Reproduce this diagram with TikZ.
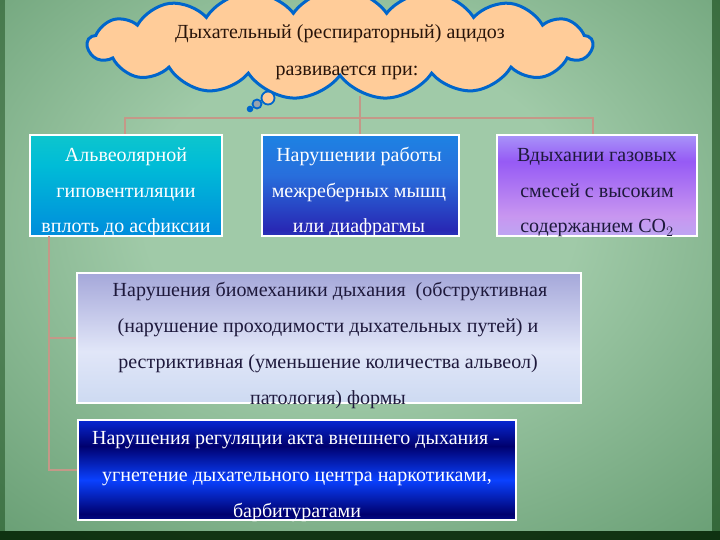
\documentclass[tikz,border=0pt]{standalone}
\usepackage{fontspec}
\setmainfont{Liberation Serif}
\usetikzlibrary{shapes.symbols}
\definecolor{bgin}{RGB}{160,202,168}
\definecolor{bgmid}{RGB}{100,155,112}
\definecolor{bgout}{RGB}{38,100,58}
\definecolor{peach}{RGB}{255,204,153}
\definecolor{cloudblue}{RGB}{0,102,204}
\definecolor{connc}{RGB}{196,152,136}
\definecolor{darktext}{RGB}{30,25,60}
\definecolor{browntext}{RGB}{40,20,10}
\pgfdeclareradialshading{bgshade}{\pgfpoint{0bp}{6bp}}{color(0bp)=(bgin); color(15bp)=(bgin); color(40bp)=(bgmid); color(70bp)=(bgout); color(100bp)=(bgout)}
\pgfdeclareverticalshading{shA}{100bp}{color(0bp)=(rgb,255:red,0;green,100;blue,205); color(25bp)=(rgb,255:red,0;green,140;blue,220); color(60bp)=(rgb,255:red,0;green,188;blue,215); color(100bp)=(rgb,255:red,35;green,212;blue,188)}
\pgfdeclareverticalshading{shB}{100bp}{color(0bp)=(rgb,255:red,50;green,150;blue,228); color(28bp)=(rgb,255:red,40;green,40;blue,180); color(55bp)=(rgb,255:red,40;green,110;blue,220); color(100bp)=(rgb,255:red,15;green,155;blue,235)}
\pgfdeclareverticalshading{shC}{100bp}{color(0bp)=(rgb,255:red,165;green,205;blue,248); color(35bp)=(rgb,255:red,200;green,150;blue,240); color(62bp)=(rgb,255:red,150;green,90;blue,245); color(80bp)=(rgb,255:red,175;green,170;blue,250); color(100bp)=(rgb,255:red,185;green,198;blue,250)}
\pgfdeclareverticalshading{shD}{100bp}{color(0bp)=(rgb,255:red,175;green,190;blue,175); color(10bp)=(rgb,255:red,150;green,170;blue,155); color(20bp)=(rgb,255:red,200;green,215;blue,240); color(45bp)=(rgb,255:red,225;green,230;blue,248); color(100bp)=(rgb,255:red,115;green,115;blue,192)}
\pgfdeclareverticalshading{shE}{100bp}{color(0bp)=(rgb,255:red,0;green,0;blue,100); color(12bp)=(rgb,255:red,10;green,55;blue,245); color(28bp)=(rgb,255:red,0;green,0;blue,110); color(45bp)=(rgb,255:red,10;green,65;blue,255); color(62bp)=(rgb,255:red,0;green,0;blue,110); color(80bp)=(rgb,255:red,10;green,55;blue,250); color(100bp)=(rgb,255:red,0;green,0;blue,100)}
\tikzset{
  conn/.style={draw=connc, line width=2pt},
  boxbase/.style={draw=white, line width=2pt, inner sep=0pt},
  txt/.style={anchor=base, inner sep=0pt, font=\fontsize{20}{22}\selectfont},
}
\begin{document}
\begin{tikzpicture}[x=1pt,y=-1pt]
\useasboundingbox (0,0) rectangle (720,540);
\node[name=bg, inner sep=0pt, minimum width=720pt, minimum height=540pt, shading=bgshade] at (360,270) {};
\fill[black!80!green!60!black, opacity=0.85] (0,531) rectangle (720,540);
\fill[black!60!green!50!black, opacity=0.5] (712,0) rectangle (720,531);
\fill[black!60!green!50!black, opacity=0.4] (0,0) rectangle (5,531);

% connector coordinates
\coordinate (cb) at (360,96);
\coordinate (hl) at (125,118);
\coordinate (hr) at (593,118);
\coordinate (vl) at (49,236);

% boxes
\node[boxbase, shading=shA, minimum width=192pt, minimum height=101pt] (b1) at (126,185.5) {};
\node[boxbase, shading=shB, minimum width=197pt, minimum height=101pt] (b2) at (360,185.5) {};
\node[boxbase, shading=shC, minimum width=200pt, minimum height=101pt] (b3) at (597,185.5) {};
\node[boxbase, shading=shD, minimum width=504pt, minimum height=130pt] (b4) at (329,338) {};
\node[boxbase, shading=shE, minimum width=438pt, minimum height=100pt] (b5) at (297,470) {};

% connectors
\draw[conn] (cb) -- (cb |- b2.north);
\draw[conn] (hl |- b1.north) -- (hl) -- (hr) -- (hr |- b3.north);
\draw[conn] (vl) |- (b5.west);
\draw[conn] (vl |- b4.west) -- (b4.west);

% cloud
\node[cloud, cloud puffs=17, cloud puff arc=110, cloud ignores aspect, minimum width=505pt, minimum height=110pt, fill=peach, draw=cloudblue, line width=3pt] (cloud) at (340,44) {};
\draw[cloudblue, line width=1.8pt, fill=peach] (268,98) circle (6.5);
\draw[cloudblue, line width=1.8pt, fill=peach!60!cloudblue] (257,104) circle (4.5);
\draw[cloudblue, line width=1.5pt, fill=cloudblue] (250,109) circle (2.5);

% cloud text
\node[txt, text=browntext] (c1) at (340,39) {Дыхательный (респираторный) ацидоз};
\node[txt, text=browntext] (c2) at (347,76) {развивается при:};

% box1 text
\node[txt, text=white] (t11) at (126,162) {Альвеолярной};
\node[txt, text=white] (t12) at (126,197) {гиповентиляции};
\node[txt, text=white] (t13) at (126,233) {вплоть до асфиксии};
% box2 text
\node[txt, text=white] (t21) at (359,162) {Нарушении работы};
\node[txt, text=white] (t22) at (359,197) {межреберных мышц};
\node[txt, text=white] (t23) at (359,233) {или диафрагмы};
% box3 text
\node[txt, text=darktext] (t31) at (597,162) {Вдыхании газовых};
\node[txt, text=darktext] (t32) at (597,197) {смесей с высоким};
\node[txt, text=darktext] (t33) at (597,233) {содержанием CO$_2$};
% box4 text
\node[txt, text=darktext] (t41) at (330,296) {Нарушения биомеханики дыхания \ (обструктивная};
\node[txt, text=darktext] (t42) at (328,332) {(нарушение проходимости дыхательных путей) и};
\node[txt, text=darktext] (t43) at (328,368) {рестриктивная (уменьшение количества альвеол)};
\node[txt, text=darktext] (t44) at (328,404) {патология) формы};
% box5 text
\node[txt, text=white] (t51) at (296,444) {Нарушения регуляции акта внешнего дыхания -};
\node[txt, text=white] (t52) at (297,481) {угнетение дыхательного центра наркотиками,};
\node[txt, text=white] (t53) at (297,517) {барбитуратами};
\end{tikzpicture}
\end{document}
